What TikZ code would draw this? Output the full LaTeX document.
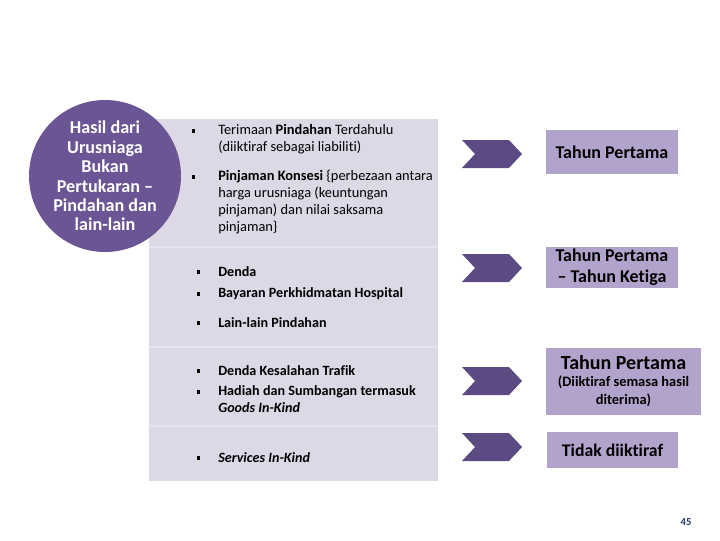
\documentclass[tikz,border=0pt]{standalone}
\usepackage{fontspec}
\setmainfont{Carlito}[Ligatures=NoCommon]
\definecolor{circ}{HTML}{6B5595}
\definecolor{chev}{HTML}{5C4A82}
\definecolor{lbox}{HTML}{B1A3CB}
\definecolor{gbox}{HTML}{DCD8E5}
\definecolor{gsep}{HTML}{E6E3EE}
\definecolor{pgnum}{HTML}{1F3864}
\tikzset{
  chevshape/.pic={\fill[chev] (-30,-14) -- (17,-14) -- (30,0) -- (17,14) -- (-30,14) -- (-17,0) -- cycle;},
  item/.style={anchor=west, align=left, inner sep=0pt, font=\fontsize{10.8}{12.75}\selectfont},
  bitem/.style={item, font=\bfseries\fontsize{10.6}{12.75}\selectfont},
  bul/.pic={\fill[black] (-1.7,-1.7) rectangle (1.7,1.7);},
  tbox/.style={fill=lbox, align=center, inner sep=0pt, font=\bfseries\fontsize{13.5}{15.75}\selectfont}
}
\begin{document}
\begin{tikzpicture}[x=0.75pt,y=-0.75pt]
\useasboundingbox (0,0) rectangle (720,540);
% grey panel
\fill[gbox] (149,119) rectangle (438,481);
\draw[gsep, line width=1pt] (149,247) -- (438,247);
\draw[gsep, line width=1pt] (149,347) -- (438,347);
\draw[gsep, line width=1pt] (149,426) -- (438,426);
% circle
\fill[circ] (105,176) circle[radius=57pt];
\node[text=white, align=center, inner sep=0pt, font=\bfseries\fontsize{13.6}{14.6}\selectfont] (title) at (105,176)
  {Hasil dari\\Urusniaga\\Bukan\\Pertukaran \textendash\\Pindahan dan\\lain-lain};
% group 1
\pic (b1) at (193.5,131) {bul};
\node[item] (t1) at (218,139.5) {Terimaan \textbf{Pindahan} Terdahulu\\(diiktiraf sebagai liabiliti)};
\pic (b2) at (193.5,177) {bul};
\node[item] (t2) at (218,202.5) {\textbf{Pinjaman Konsesi} \{perbezaan antara\\harga urusniaga (keuntungan\\pinjaman) dan nilai saksama\\pinjaman\}};
% group 2
\pic (b3) at (198.5,272) {bul};
\node[bitem] (t3) at (218,272) {Denda};
\pic (b4) at (198.5,294) {bul};
\node[bitem] (t4) at (218,294) {Bayaran Perkhidmatan Hospital};
\pic (b5) at (198.5,323) {bul};
\node[bitem] (t5) at (218,323) {Lain-lain Pindahan};
% group 3
\pic (b6) at (198.5,371) {bul};
\node[bitem] (t6) at (218,371) {Denda Kesalahan Trafik};
\pic (b7) at (198.5,392) {bul};
\node[bitem] (t7) at (218,399.5) {Hadiah dan Sumbangan termasuk\\\textit{Goods In-Kind}};
% group 4
\pic (b8) at (198.5,458) {bul};
\node[bitem] (t8) at (218,458) {\textit{Services In-Kind}};
% chevrons
\pic (c1) at (492,154) {chevshape};
\pic (c2) at (492,268) {chevshape};
\pic (c3) at (492,381) {chevshape};
\pic (c4) at (492,447) {chevshape};
% result boxes
\node[tbox, minimum width=99pt, minimum height=33pt] (r1) at (612,152) {Tahun Pertama};
\node[tbox, minimum width=99pt, minimum height=30.75pt] (r2) at (612,267.5) {Tahun Pertama\\\textendash{} Tahun Ketiga};
\node[tbox, minimum width=116.25pt, minimum height=50.25pt, font=\bfseries\fontsize{10.8}{12.8}\selectfont] (r3) at (623.5,381)
  {{\fontsize{15}{15}\selectfont Tahun Pertama}\\(Diiktiraf semasa hasil\\diterima)};
\node[tbox, minimum width=98.25pt, minimum height=27pt, font=\bfseries\fontsize{13.3}{15}\selectfont] (r4) at (612.5,450) {Tidak diiktiraf};
% page number
\node[text=pgnum, inner sep=0pt, font=\bfseries\fontsize{8}{9}\selectfont] (pg) at (686,522) {45};
\end{tikzpicture}
\end{document}
